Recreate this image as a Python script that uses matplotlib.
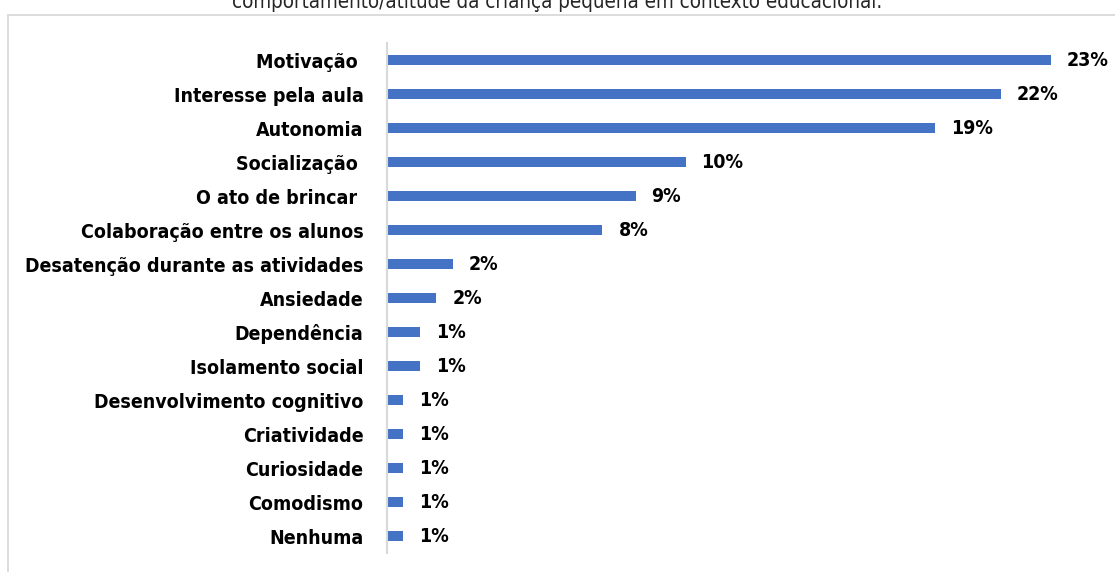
import matplotlib
matplotlib.use("Agg")
import matplotlib.pyplot as plt
from matplotlib.patches import Rectangle

# Share of responses per category (percent)
categories = [
    "Motivação ",
    "Interesse pela aula",
    "Autonomia",
    "Socialização ",
    "O ato de brincar ",
    "Colaboração entre os alunos",
    "Desatenção durante as atividades",
    "Ansiedade",
    "Dependência",
    "Isolamento social",
    "Desenvolvimento cognitivo",
    "Criatividade",
    "Curiosidade",
    "Comodismo",
    "Nenhuma",
]
percentages = [23.26, 21.51, 19.19, 10.47, 8.72, 7.56, 2.33, 1.74, 1.16, 1.16,
               0.58, 0.58, 0.58, 0.58, 0.58]
title = "comportamento/atitude da criança pequena em contexto educacional."

BAR_COLOR = "#4472C4"
FONT = ["DejaVu Sans"]

W, H = 1115, 572
fig = plt.figure(figsize=(W / 100, H / 100), dpi=100)
fig.patch.set_facecolor("white")

# Chart frame
fig.patches.append(Rectangle((7.5 / W, -0.05), 1.1, 1 - 14.5 / H + 0.05,
                             transform=fig.transFigure, fill=False,
                             edgecolor="#d9d9d9", linewidth=1.3))

# Title sits above the frame
fig.text(0.5, 1 - 8 / H, title, ha="center", va="baseline",
         fontsize=14.8, family=FONT, fontstretch="condensed", color="#262626")

ax = fig.add_axes([386.5 / W, 1 - 553 / H, 714 / W, 510 / H])
y = list(range(len(categories)))
ax.barh(y, percentages, height=0.3, color=BAR_COLOR)
ax.set_xlim(0, 25)
ax.set_ylim(len(categories) - 0.5, -0.5)

ax.set_yticks(y)
ax.set_yticklabels(categories, fontsize=14, fontweight="bold",
                   family=FONT, fontstretch="condensed")
ax.tick_params(axis="y", length=0, pad=16.5)
ax.set_xticks([])

for s in ("top", "right", "bottom"):
    ax.spines[s].set_visible(False)
ax.spines["left"].set_color("#d9d9d9")
ax.spines["left"].set_linewidth(1.5)

for yi, v in zip(y, percentages):
    ax.annotate(f"{v:.0f}%", (v, yi), xytext=(16, 0),
                textcoords="offset pixels", va="center", ha="left",
                fontsize=14, fontweight="bold", family=FONT,
                fontstretch="condensed", annotation_clip=False)

fig.savefig("out.png", dpi=100, facecolor="white")
